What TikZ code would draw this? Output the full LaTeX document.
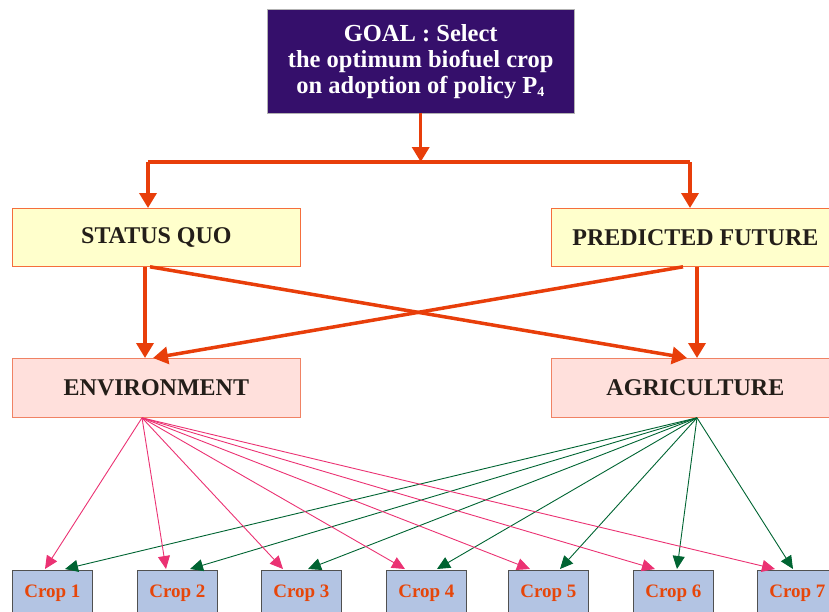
\documentclass[tikz,border=0pt]{standalone}
\usepackage{fontspec}
\setmainfont{Liberation Serif}
\usetikzlibrary{arrows.meta,calc}
\definecolor{goalfill}{RGB}{53,15,107}
\definecolor{orangeline}{RGB}{232,62,10}
\definecolor{sqfill}{RGB}{255,255,204}
\definecolor{sqdraw}{RGB}{245,110,60}
\definecolor{envfill}{RGB}{255,224,220}
\definecolor{envdraw}{RGB}{240,130,100}
\definecolor{cropfill}{RGB}{179,196,227}
\definecolor{cropdraw}{RGB}{80,80,80}
\definecolor{croptext}{RGB}{230,70,10}
\definecolor{pinkline}{RGB}{235,50,115}
\definecolor{greenline}{RGB}{0,100,50}
\definecolor{textdark}{RGB}{35,30,25}
\begin{document}
\begin{tikzpicture}[x=1pt,y=-1pt,
  box/.style={rectangle, inner sep=0pt, anchor=north west},
  goalbox/.style={box, fill=goalfill, draw=gray!60, minimum width=307pt, minimum height=104pt,
     text=white, align=center, font=\fontsize{24.5}{26}\selectfont\bfseries},
  scenbox/.style={box, fill=sqfill, draw=sqdraw, line width=0.8pt, minimum width=288pt, minimum height=58pt,
     text=textdark, font=\fontsize{24}{26}\selectfont\bfseries},
  critbox/.style={box, fill=envfill, draw=envdraw, line width=0.8pt, minimum width=288pt, minimum height=59pt,
     text=textdark, font=\fontsize{24}{26}\selectfont\bfseries},
  cropbox/.style={box, fill=cropfill, draw=cropdraw, line width=0.8pt, minimum width=80pt, minimum height=46pt,
     text=croptext, font=\fontsize{19}{20}\selectfont\bfseries},
  oline/.style={draw=orangeline, line width=3.5pt},
  oarrow/.style={oline, -{Triangle[length=15pt,width=17pt]}},
  parrow/.style={draw=pinkline, line width=0.9pt, -{Triangle[length=13pt,width=12pt]}},
  garrow/.style={draw=greenline, line width=0.9pt, -{Triangle[length=13pt,width=12pt]}}
]
\useasboundingbox (0,0) rectangle (829,611);
\clip (0,0) rectangle (829,611);

\node[goalbox] (goal) at (267,9) {GOAL : Select\\the optimum biofuel crop\\on adoption of policy P\textsubscript{\fontsize{14}{14}\selectfont 4}};

\node[scenbox] (sq) at (12,208) {STATUS QUO};
\node[scenbox] (pf) at (551,208) {PREDICTED FUTURE};
\node[critbox] (env) at (12,358) {ENVIRONMENT};
\node[critbox] (ag) at (551,358) {AGRICULTURE};

\foreach \i/\x in {1/12,2/137,3/261,4/386,5/508,6/633,7/757}{
  \node[cropbox] (c\i) at (\x,570) {Crop \i};
}

% goal to scenarios
\coordinate (jl) at (148,162);
\coordinate (jr) at (690,162);
\draw[oline] (jl) -- (jr);
\draw[oarrow] (goal.south) -- (goal.south |- jl);
\draw[oarrow] (jl) -- (jl |- sq.north);
\draw[oarrow] (jr) -- (jr |- pf.north);

% scenarios to criteria
\draw[oarrow] ($(sq.south west)+(133,0)$) -- ($(env.north west)+(133,0)$);
\draw[oarrow] ($(sq.south west)+(138,0)$) -- ($(ag.north west)+(136,0)$);
\draw[oarrow] ($(pf.south west)+(132,0)$) -- ($(env.north west)+(141,0)$);
\draw[oarrow] ($(pf.south west)+(146,0)$) -- ($(ag.north west)+(146,0)$);

% criteria to crops
\coordinate (eo) at ($(env.south west)+(130,0)$);
\coordinate (ao) at ($(ag.south west)+(146,0)$);
\foreach \i/\p/\g in {1/33/53,2/29/53,3/22/47,4/19/51,5/22/52,6/22/44,7/18/36}{
  \draw[parrow] (eo) -- ($(c\i.north west)+(\p,-1)$);
  \draw[garrow] (ao) -- ($(c\i.north west)+(\g,-1)$);
}
\end{tikzpicture}
\end{document}
